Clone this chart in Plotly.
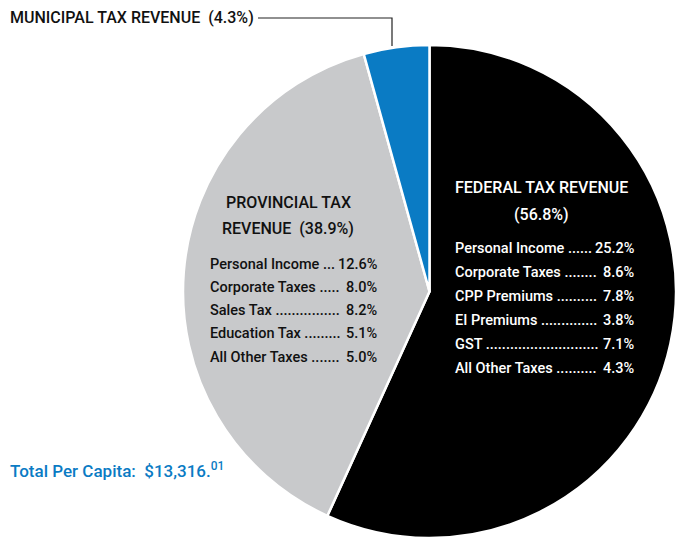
import plotly.graph_objects as go

W, H = 676, 541

# Revenue shares by level of government (per cent)
levels = ["Federal", "Provincial", "Municipal"]
shares = [56.8, 38.9, 4.3]
slice_colors = ["#000000", "#C8C9CB", "#0A7BC4"]

federal_items = ["Personal Income", "Corporate Taxes", "CPP Premiums",
                 "EI Premiums", "GST", "All Other Taxes"]
federal_values = [25.2, 8.6, 7.8, 3.8, 7.1, 4.3]
federal_dots = [6, 8, 10, 14, 28, 10]

provincial_items = ["Personal Income", "Corporate Taxes", "Sales Tax",
                    "Education Tax", "All Other Taxes"]
provincial_values = [12.6, 8.0, 8.2, 5.1, 5.0]
provincial_dots = [3, 5, 16, 9, 7]

total_per_capita = "$13,316."
total_cents = "01"

FONT = "Roboto, Liberation Sans, sans-serif"
BLUE = "#0A7BC4"
TITLE_SIZE = 16
ITEM_SIZE = 14.5


def px(x):
    return x / W


def py(y):
    return 1 - y / H


fig = go.Figure(go.Pie(
    labels=levels,
    values=shares,
    sort=False,
    direction="clockwise",
    rotation=0,
    marker=dict(colors=slice_colors, line=dict(color="white", width=2.5)),
    textinfo="none",
    hoverinfo="label+percent",
    showlegend=False,
    domain=dict(x=[px(183), px(676)], y=[py(538), py(45)]),
))

ann = []


def add_text(x, y, text, color, size, anchor="left"):
    ann.append(dict(x=px(x), y=py(y), xref="paper", yref="paper", text=text,
                    showarrow=False, xanchor=anchor, yanchor="middle",
                    font=dict(family=FONT, size=size, color=color, weight=500)))


def dotted_rows(items, values, dots, x0, x1, y0, dy, color):
    # label with dot leader on the left, value flush right
    for i, (name, val, nd) in enumerate(zip(items, values, dots)):
        y = y0 + dy * i
        add_text(x0, y, name + " " + "." * nd, color, ITEM_SIZE, "left")
        add_text(x1, y, f"{val:.1f}%", color, ITEM_SIZE, "right")


# Federal block
add_text(541, 188, "FEDERAL TAX REVENUE", "white", TITLE_SIZE, "center")
add_text(541, 214, f"({shares[0]}%)", "white", TITLE_SIZE, "center")
dotted_rows(federal_items, federal_values, federal_dots, 453, 637, 248, 24, "white")

# Provincial block
add_text(288, 202, "PROVINCIAL TAX", "#111111", TITLE_SIZE, "center")
add_text(288, 228, f"REVENUE  ({shares[1]}%)", "#111111", TITLE_SIZE, "center")
dotted_rows(provincial_items, provincial_values, provincial_dots, 208, 380, 264, 23.3, "#111111")

# Municipal callout
add_text(8, 18, f"MUNICIPAL TAX REVENUE  ({shares[2]}%)", "#111111", TITLE_SIZE, "left")

# Total per capita
add_text(8, 470, f"Total Per Capita:  {total_per_capita}<sup>{total_cents}</sup>", BLUE, 17, "left")

shapes = [dict(type="path", xref="paper", yref="paper",
               path=f"M {px(258)} {py(18)} L {px(392)} {py(18)} L {px(392)} {py(46)}",
               line=dict(color="#222222", width=1.2))]

fig.update_layout(
    width=W, height=H,
    margin=dict(l=0, r=0, t=0, b=0),
    paper_bgcolor="white",
    plot_bgcolor="white",
    annotations=ann,
    shapes=shapes,
)

fig.write_html("out.html")
